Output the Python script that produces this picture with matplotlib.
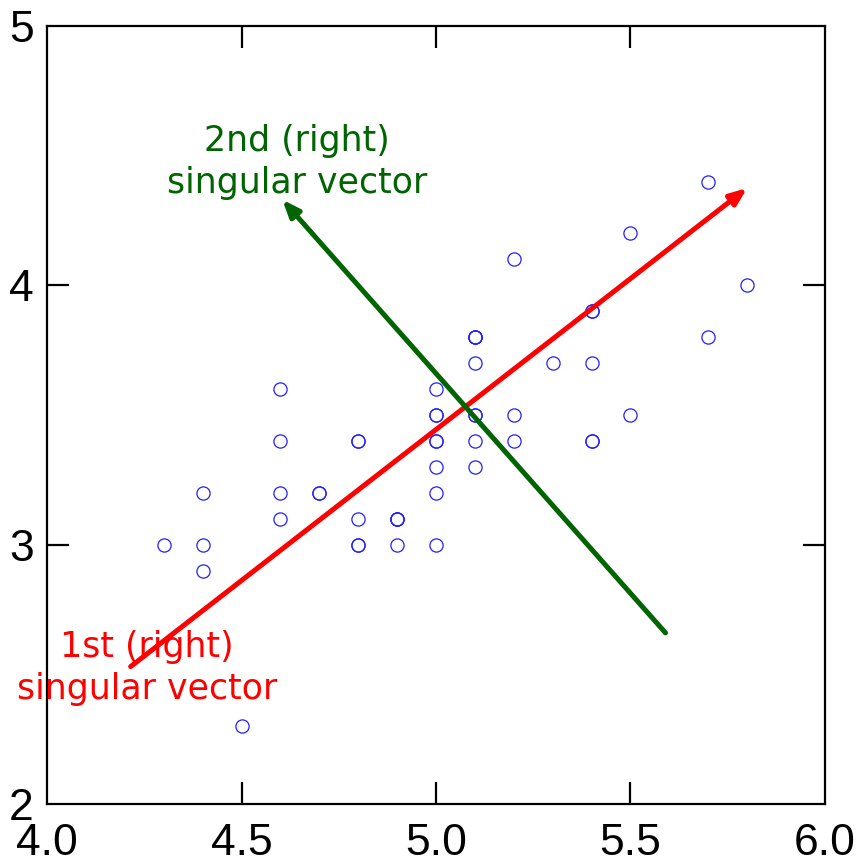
import matplotlib
matplotlib.use("Agg")
import matplotlib.pyplot as plt

plt.rcParams["font.family"] = ["Liberation Sans", "DejaVu Sans"]

# Iris setosa: sepal length vs sepal width
sepal_length = [5.1, 4.9, 4.7, 4.6, 5.0, 5.4, 4.6, 5.0, 4.4, 4.9,
                5.4, 4.8, 4.8, 4.3, 5.8, 5.7, 5.4, 5.1, 5.7, 5.1,
                5.4, 5.1, 4.6, 5.1, 4.8, 5.0, 5.0, 5.2, 5.2, 4.7,
                4.8, 5.4, 5.2, 5.5, 4.9, 5.0, 5.5, 4.9, 4.4, 5.1,
                5.0, 4.5, 4.4, 5.0, 5.1, 4.8, 5.1, 4.6, 5.3, 5.0]
sepal_width = [3.5, 3.0, 3.2, 3.1, 3.6, 3.9, 3.4, 3.4, 2.9, 3.1,
               3.7, 3.4, 3.0, 3.0, 4.0, 4.4, 3.9, 3.5, 3.8, 3.8,
               3.4, 3.7, 3.6, 3.3, 3.4, 3.0, 3.4, 3.5, 3.4, 3.2,
               3.1, 3.4, 4.1, 4.2, 3.1, 3.2, 3.5, 3.1, 3.0, 3.4,
               3.5, 2.3, 3.2, 3.5, 3.8, 3.0, 3.8, 3.2, 3.7, 3.3]

# singular vector arrows: (start, end) in data coords
v1_start, v1_end = (4.215, 2.53), (5.80, 4.375)
v2_start, v2_end = (5.59, 2.66), (4.605, 4.33)

label1 = "1st (right)\nsingular vector"
label2 = "2nd (right)\nsingular vector"
label1_pos = (4.257, 2.525)
label2_pos = (4.643, 4.475)

xticks = [4.0, 4.5, 5.0, 5.5, 6.0]
yticks = [2, 3, 4, 5]

fig = plt.figure(figsize=(8.58, 8.64), dpi=100)
ax = fig.add_axes([0.0548, 0.0694, 0.9067, 0.9006])

ax.plot(sepal_length, sepal_width, linestyle="none", marker="o",
        markersize=9.5, markerfacecolor="none", markeredgecolor="#1f1fff",
        markeredgewidth=0.9)

for (s, e, c) in [(v1_start, v1_end, "#ff0000"), (v2_start, v2_end, "#006400")]:
    ax.annotate("", xy=e, xytext=s,
                arrowprops=dict(arrowstyle="-|>,head_length=1.0,head_width=0.4",
                                color=c, lw=3.6, shrinkA=0, shrinkB=0))

text_font = "DejaVu Sans"
ax.text(*label1_pos, label1, color="#ff0000", fontsize=25, ha="center",
        va="center", family=text_font, linespacing=1.3, clip_on=False)
ax.text(*label2_pos, label2, color="#006400", fontsize=25, ha="center",
        va="center", family=text_font, linespacing=1.3, clip_on=False)

ax.set_xlim(4.0, 6.0)
ax.set_ylim(2, 5)
ax.set_xticks(xticks)
ax.set_xticklabels([f"{t:.1f}" for t in xticks])
ax.set_yticks(yticks)
ax.set_yticklabels([str(t) for t in yticks])
ax.tick_params(direction="in", length=16, width=1.6, top=True, right=True,
               labelsize=32)
ax.tick_params(axis="x", pad=14)
ax.tick_params(axis="y", pad=9.5)

# end ticks sit on the spines, hide them
for axis in (ax.xaxis, ax.yaxis):
    ticks = axis.get_major_ticks()
    for t in (ticks[0], ticks[-1]):
        t.tick1line.set_visible(False)
        t.tick2line.set_visible(False)

for sp in ax.spines.values():
    sp.set_linewidth(1.6)

fig.savefig("out.png", dpi=100)
